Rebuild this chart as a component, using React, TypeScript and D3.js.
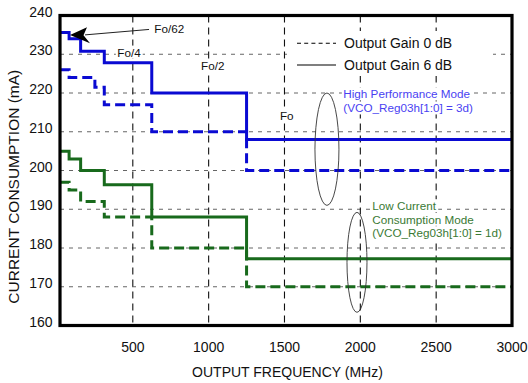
import React, { useRef, useEffect } from 'react';
import * as d3 from 'd3';

const W = 528;
const H = 383;

// step breakpoints (MHz) and current levels (mA), step-after
const stepFreqs = [20, 80, 156, 312, 625, 1250, 3000];
const hpGain6dB = [235.6, 234, 230.8, 227.8, 220, 208, 208];
const lcGain6dB = [205, 203, 200, 196.3, 188, 177.2, 177.2];
const lcGain0dB = [197, 195, 192, 188, 180, 170, 170];
const hpGain0Freqs = [20, 80, 250, 312, 625, 1250, 3000];
const hpGain0dB = [226, 224, 221.5, 217, 210, 200, 200];

const xTicks = [500, 1000, 1500, 2000, 2500, 3000];
const yTicks = [160, 170, 180, 190, 200, 210, 220, 230, 240];
const xGrid = [500, 1000, 1500, 2000, 2500];
const yGrid = [170, 180, 190, 200, 210, 220, 230];

// divider labels: [text, freq, mA]
const dividerLabels: [string, number, number][] = [
  ['Fo/62', 642, 235.4],
  ['Fo/4', 398, 229.4],
  ['Fo/2', 950, 225.9],
  ['Fo', 1470, 213],
];

const hpNote = ['High Performance Mode', '(VCO_Reg03h[1:0] = 3d)'];
const lcNote = ['Low Current', 'Consumption Mode', '(VCO_Reg03h[1:0] = 1d)'];
const legendItems = ['Output Gain 0 dB', 'Output Gain 6 dB'];

const BLUE = '#0a0ad2';
const GREEN = '#186a1c';
const FONT = '"Liberation Sans", Arial, sans-serif';

export default function App() {
  const ref = useRef<SVGSVGElement>(null);

  useEffect(() => {
    const svg = d3.select(ref.current);
    svg.selectAll('*').remove();

    const x = d3.scaleLinear().domain([20, 3000]).range([60, 512]);
    const y = d3.scaleLinear().domain([160, 240]).range([325.5, 15.5]);

    svg.append('rect').attr('width', W).attr('height', H).attr('fill', '#fff');

    // grid
    const grid = svg.append('g');
    grid.selectAll('line.h')
      .data(yGrid)
      .enter()
      .append('line')
      .attr('x1', x(20)).attr('x2', x(3000))
      .attr('y1', d => y(d)).attr('y2', d => y(d))
      .attr('stroke', '#666').attr('stroke-width', 1)
      .attr('stroke-dasharray', '4,5');
    grid.selectAll('line.v')
      .data(xGrid)
      .enter()
      .append('line')
      .attr('x1', d => x(d)).attr('x2', d => x(d))
      .attr('y1', y(240)).attr('y2', y(160))
      .attr('stroke', '#111').attr('stroke-width', 1.1)
      .attr('stroke-dasharray', '7,5');

    // labels with white background
    const labels = svg.append('g').style('font-family', FONT);
    const addLabel = (px: number, py: number, txt: string, size: number, color: string, pad = 1.5) => {
      const t = labels.append('text')
        .attr('x', px).attr('y', py)
        .style('font-size', size + 'px')
        .attr('fill', color)
        .text(txt);
      const bb = (t.node() as SVGTextElement).getBBox();
      labels.insert('rect', () => t.node())
        .attr('x', bb.x - pad).attr('y', bb.y)
        .attr('width', bb.width + pad * 2).attr('height', bb.height)
        .attr('fill', '#fff');
    };

    dividerLabels.forEach(([t, f, v]) => addLabel(x(f), y(v), t, 11.7, '#111'));
    hpNote.forEach((t, i) => addLabel(x(1888), y(218.6) + i * 14, t, 11.7, '#4a3ff2'));
    lcNote.forEach((t, i) => addLabel(x(2079), y(189.75) + i * 13.6, t, 11.7, '#3a7a34'));

    // legend
    const legend = svg.append('g').style('font-family', FONT);
    legend.append('rect')
      .attr('x', 287).attr('y', 31).attr('width', 206).attr('height', 45)
      .attr('fill', '#fff');
    legendItems.forEach((t, i) => {
      const ly = 43.3 + i * 21.7;
      legend.append('line')
        .attr('x1', 297).attr('x2', 336)
        .attr('y1', ly).attr('y2', ly)
        .attr('stroke', '#000').attr('stroke-width', 1.1)
        .attr('stroke-dasharray', i === 0 ? '4,3.2' : null);
      legend.append('text')
        .attr('x', 344).attr('y', ly + 4.6)
        .style('font-size', '14px')
        .attr('fill', '#111')
        .text(t);
    });

    // series
    const line = d3.line<[number, number]>()
      .x(d => x(d[0]))
      .y(d => y(d[1]))
      .curve(d3.curveStepAfter);
    const series = [
      { f: stepFreqs, v: hpGain6dB, color: BLUE, dash: null },
      { f: hpGain0Freqs, v: hpGain0dB, color: BLUE, dash: '10,5' },
      { f: stepFreqs, v: lcGain6dB, color: GREEN, dash: null },
      { f: stepFreqs, v: lcGain0dB, color: GREEN, dash: '10,5' },
    ];
    series.forEach(s => {
      svg.append('path')
        .datum(s.f.map((f, i) => [f, s.v[i]] as [number, number]))
        .attr('fill', 'none')
        .attr('stroke', s.color)
        .attr('stroke-width', 3)
        .attr('stroke-dasharray', s.dash)
        .attr('d', line);
    });

    // ellipses grouping the modes
    svg.append('ellipse')
      .attr('cx', x(1780)).attr('cy', y(205.5))
      .attr('rx', 12).attr('ry', y(191) - y(205.5))
      .attr('fill', 'none').attr('stroke', '#333').attr('stroke-width', 0.9);
    svg.append('ellipse')
      .attr('cx', x(1978)).attr('cy', y(176.3))
      .attr('rx', 10).attr('ry', y(163.4) - y(176.3))
      .attr('fill', 'none').attr('stroke', '#333').attr('stroke-width', 0.9);

    // arrow to Fo/62 step
    const tipX = x(86), tipY = y(235);
    svg.append('line')
      .attr('x1', x(607)).attr('y1', y(236.4))
      .attr('x2', tipX + 15).attr('y2', tipY)
      .attr('stroke', '#222').attr('stroke-width', 1);
    svg.append('path')
      .attr('d', `M${tipX},${tipY} L${tipX + 17},${tipY - 7.7} L${tipX + 13.5},${tipY + 0.4} L${tipX + 20},${tipY + 8.3} Z`)
      .attr('fill', '#000');

    // frame
    svg.append('rect')
      .attr('x', x(20)).attr('y', y(240))
      .attr('width', x(3000) - x(20)).attr('height', y(160) - y(240))
      .attr('fill', 'none').attr('stroke', '#000').attr('stroke-width', 3.2);

    // axes text
    const axes = svg.append('g').style('font-family', FONT).attr('fill', '#111');
    axes.selectAll('text.y')
      .data(yTicks)
      .enter()
      .append('text')
      .attr('x', 52.5).attr('y', d => y(d) + 1)
      .attr('text-anchor', 'end')
      .style('font-size', '14px')
      .text(d => d);
    axes.selectAll('text.x')
      .data(xTicks)
      .enter()
      .append('text')
      .attr('x', d => x(d)).attr('y', 351.7)
      .attr('text-anchor', 'middle')
      .style('font-size', '14px')
      .text(d => d);
    axes.append('text')
      .attr('x', 287.5).attr('y', 377)
      .attr('text-anchor', 'middle')
      .style('font-size', '14px')
      .text('OUTPUT FREQUENCY (MHz)');
    axes.append('text')
      .attr('transform', 'translate(19,186.7) rotate(-90)')
      .attr('text-anchor', 'middle')
      .style('font-size', '15.5px')
      .text('CURRENT CONSUMPTION (mA)');
  }, []);

  return (
    <svg ref={ref} width={W} height={H} style={{ position: 'absolute', left: 0, top: 0 }} />
  );
}
